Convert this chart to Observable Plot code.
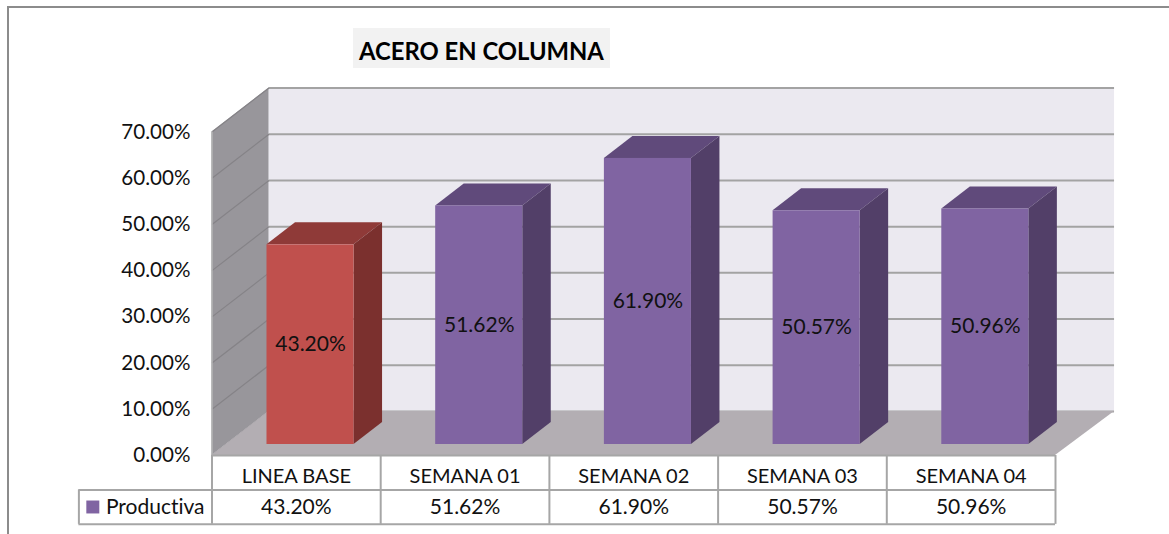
<!DOCTYPE html>
<html>
<head>
<meta charset="utf-8">
<script src="https://cdn.jsdelivr.net/npm/d3@7"></script>
<script src="https://cdn.jsdelivr.net/npm/@observablehq/plot@0.6"></script>
<style>
html,body{margin:0;padding:0;background:#fff;overflow:hidden}
#wrap{position:relative;width:1169px;height:534px;overflow:hidden}
#frame{position:absolute;left:7px;top:6px;width:1170px;height:540px;border-left:2px solid #8c8c8c;border-top:2px solid #8c8c8c;box-sizing:border-box}
#title{position:absolute;left:353px;top:28px;width:257px;height:40px;background:#f2f2f2;text-align:center;font:bold 23.8px/46px Lato,sans-serif;color:#000;margin:0}
#chart{position:absolute;left:0;top:0}
svg text{font-variant-ligatures:none}
</style>
</head>
<body>
<div id="wrap"><div id="frame"></div><div id="chart"></div><h1 id="title">ACERO EN COLUMNA</h1></div>
<script>
const categories = ["LINEA BASE", "SEMANA 01", "SEMANA 02", "SEMANA 03", "SEMANA 04"];
const values = [43.20, 51.62, 61.90, 50.57, 50.96];
const ticks = [0, 10, 20, 30, 40, 50, 60, 70];
const seriesName = "Productiva";
const frontColors = ["#c0504d", "#8064a2", "#8064a2", "#8064a2", "#8064a2"];
const topColors = ["#8f3a38", "#604a7b", "#604a7b", "#604a7b", "#604a7b"];
const sideColors = ["#7b302e", "#523f68", "#523f68", "#523f68", "#523f68"];

// 3D projection, in scale units
const depthX = 0.338, depthY = 9.52;        // full floor depth
const backEnd = 5.012;                      // right end of the back wall
const barNear = 0.25, barFar = 0.75;        // bar position in the depth
const barLeft = 0.2415, barWidth = 0.516;   // bar position in a category slot
const headerY = -4.65, rowY = -11.2, headerLine = -7.47, rowLine = -14.9, tableLeft = -0.789;
const font = "Lato, sans-serif";

const bars = categories.map((c, i) => ({
  c, i, v: values[i],
  l: i + barLeft + barNear * depthX,
  r: i + barLeft + barWidth + barNear * depthX,
  b: barNear * depthY,
  ex: (barFar - barNear) * depthX,
  ey: (barFar - barNear) * depthY
}));
const face = (rows, f) => rows.flatMap((d, k) => f(d).map(p => ({key: k, ...p})));
const para = (x1, y1, x2, y2, ex, ey, fill) => [
  {x1, y1, x2, y2, fill},
  {x1: x1 + ex, y1: y1 + ey, x2: x2 + ex, y2: y2 + ey, fill}
];
const area = (rows) => Plot.area(rows, {x1: "x1", y1: "y1", x2: "x2", y2: "y2", z: "key", fill: "fill", curve: "linear"});

const topFaces = face(bars, d => para(d.l, d.b + d.v, d.r, d.b + d.v, d.ex, d.ey, topColors[d.i]));
const sideFaces = face(bars, d => para(d.r, d.b, d.r, d.b + d.v, d.ex, d.ey, sideColors[d.i]));
const wall = face([0], () => para(depthX, depthY, backEnd + depthX, depthY, 0, 70, "#ebe9f0"));
const leftWall = face([0], () => para(0, 0, 0, 70, depthX, depthY, "#98969b"));
const floor = [
  {key: 0, x1: 0, y1: 0, x2: 5, y2: 0, fill: "#b3aeb3"},
  {key: 0, x1: depthX, y1: depthY, x2: backEnd + depthX, y2: depthY, fill: "#b3aeb3"}
];
const textStyle = {fontFamily: font, fill: "#111"};
const slots = d3.range(categories.length + 1);

const plot = Plot.plot({
  width: 1169, height: 534,
  marginLeft: 212, marginRight: 0, marginTop: 0, marginBottom: 0,
  x: {domain: [0, 5], range: [211.5, 1055], axis: null},
  y: {domain: [0, 70], range: [455, 131.5]},
  color: {type: "identity"},
  style: {background: "transparent", fontFamily: font},
  marks: [
    area(wall),
    area(leftWall),
    Plot.ruleY(ticks, {y: d => d + depthY, x1: depthX, x2: backEnd + depthX, stroke: "#a3a3a3", strokeWidth: 2}),
    Plot.link(ticks, {x1: 0, y1: d => d, x2: depthX, y2: d => d + depthY, stroke: "#858387", strokeWidth: 1.2}),
    Plot.ruleX([0], {y1: 0, y2: 70, stroke: "#b5b5b5", strokeWidth: 1.5}),
    area(floor),
    area(topFaces),
    area(sideFaces),
    Plot.rect(bars, {x1: "l", x2: "r", y1: "b", y2: d => d.b + d.v, fill: d => frontColors[d.i]}),
    Plot.text(bars, {x: d => (d.l + d.r) / 2, y: d => d.b + d.v / 2, text: d => d.v.toFixed(2) + "%", fontSize: 21, ...textStyle}),
    Plot.axisY({ticks, tickFormat: d => d.toFixed(2) + "%", tickSize: 0, tickPadding: 22, label: null, fontSize: 20.6, fontFamily: font, fill: "#111", anchor: "left"}),
    // data table
    Plot.ruleY([0], {x1: 0, x2: 5, stroke: "#a6a6a6", strokeWidth: 2}),
    Plot.ruleY([headerLine, rowLine], {x1: tableLeft, x2: 5, stroke: "#a6a6a6", strokeWidth: 2}),
    Plot.ruleX(slots, {y1: 0, y2: rowLine, stroke: "#a6a6a6", strokeWidth: 2}),
    Plot.ruleX([tableLeft], {y1: headerLine, y2: rowLine, stroke: "#a6a6a6", strokeWidth: 2}),
    Plot.text(categories, {x: (d, i) => i + 0.5, y: headerY, text: d => d, fontSize: 20, ...textStyle}),
    Plot.text(values, {x: (d, i) => i + 0.5, y: rowY, text: d => d.toFixed(2) + "%", fontSize: 21, ...textStyle}),
    Plot.rect([seriesName], {x1: -0.742, x2: -0.665, y1: -9.85, y2: -12.65, fill: "#8064a2"}),
    Plot.text([seriesName], {x: -0.629, y: rowY, text: d => d, textAnchor: "start", fontSize: 21, ...textStyle})
  ]
});
document.getElementById("chart").appendChild(plot);
</script>
</body>
</html>
